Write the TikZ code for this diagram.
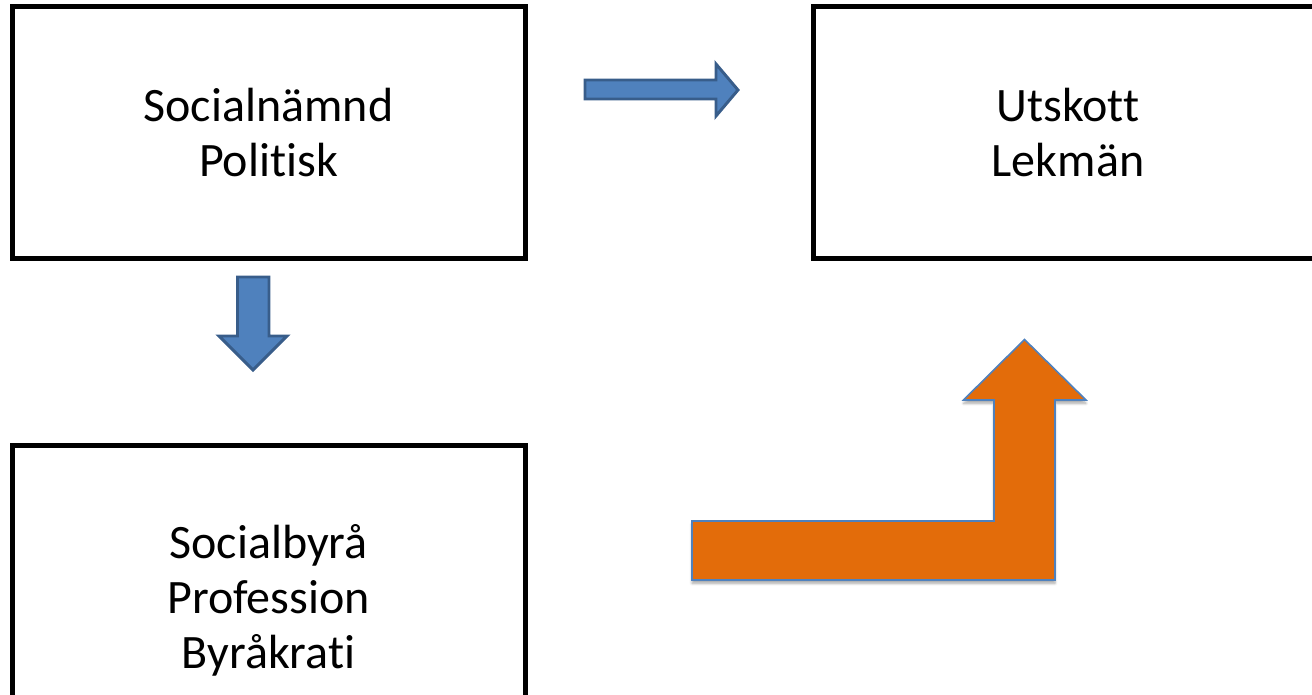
\documentclass[tikz,border=0pt]{standalone}
\usepackage{fontspec}
\setmainfont{Carlito}[Ligatures={NoCommon}]
\usetikzlibrary{shadows.blur}
\definecolor{boxblue}{HTML}{4F81BD}
\definecolor{boxblueedge}{HTML}{385D8A}
\definecolor{orangefill}{HTML}{E36C0A}
\tikzset{
  box/.style={draw=black, line width=3.75pt, fill=white, align=center,
    font=\fontsize{36pt}{41.25pt}\selectfont, inner sep=0pt},
  bluearrow/.style={draw=boxblueedge, fill=boxblue, line width=2.2pt, line join=miter},
  orangearrow/.style={draw=boxblue, fill=orangefill, line width=1.2pt, line join=miter,
    blur shadow={shadow xshift=0pt, shadow yshift=-2.5pt, shadow blur steps=6, shadow opacity=35}}
}
\begin{document}
\begin{tikzpicture}[x=0.75pt,y=-0.75pt]
\useasboundingbox (0,0) rectangle (1312,695);
\node[box, minimum width=384.75pt, minimum height=188.25pt] (soc) at (268.5,132.5) {Socialnämnd\\Politisk};
\node[box, minimum width=382.1pt, minimum height=188.25pt] (uts) at (1068,132.5) {Utskott\\Lekmän};
\node[box, minimum width=384.75pt, minimum height=231.75pt] (byra) at (268.5,600) {Socialbyrå\\Profession\\Byråkrati};
% blue right arrow
\draw[bluearrow] (585,80) -- (716,80) -- (716,64) -- (738,90) -- (716,116) -- (716,99) -- (585,99) -- cycle;
% blue down arrow
\draw[bluearrow] (237.5,277) -- (269,277) -- (269,336) -- (287,336) -- (253,370) -- (219,336) -- (237.5,336) -- cycle;
% orange bent arrow
\draw[orangearrow] (692,580) -- (692,521) -- (994,521) -- (994,400) -- (963.5,400) -- (1024.5,339.5) -- (1086,400) -- (1055,400) -- (1055,580) -- cycle;
\end{tikzpicture}
\end{document}
